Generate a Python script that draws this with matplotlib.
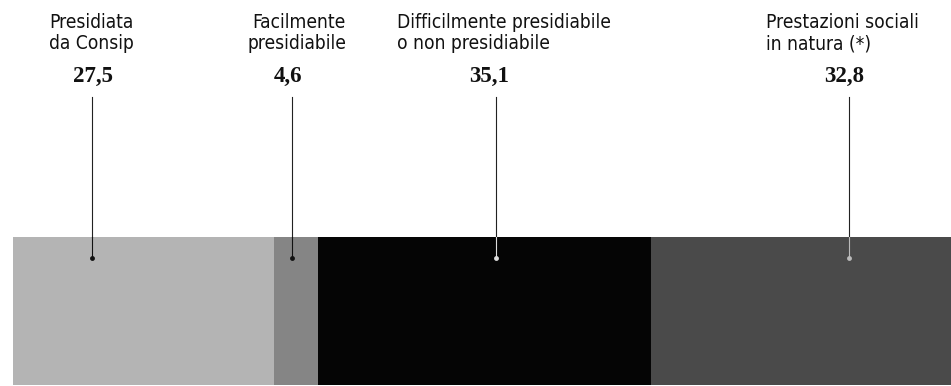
import numpy as np
import matplotlib
matplotlib.use("Agg")
import matplotlib.pyplot as plt

# data
categories = ["Presidiata\nda Consip", "Facilmente\npresidiabile",
              "Difficilmente presidiabile\no non presidiabile",
              "Prestazioni sociali\nin natura (*)"]
values = [27.5, 4.6, 35.1, 32.8]
value_labels = ["27,5", "4,6", "35,1", "32,8"]

# styling / layout (x in percent of bar, y in pixels from top)
colors = ["#b4b4b4", "#858585", "#050505", "#4a4a4a"]
pin_colors = ["#111111", "#111111", "#dddddd", "#bbbbbb"]
pin_x = [8.3, 29.4, 50.8, 88.0]
text_x = [8.3, 35.05, 40.4, 79.3]
text_ha = ["center", "right", "left", "left"]
num_x = [8.4, 29.0, 50.1, 87.5]

px_per_unit = 9.5
left_px = 13
bar_top, bar_bottom = 237, 385

fig = plt.figure(figsize=(9.51, 3.86), dpi=100)
ax = fig.add_axes([0, 0, 1, 1])
ax.set_xlim(-left_px / px_per_unit, (951 - left_px) / px_per_unit)
ax.set_ylim(386, 0)
ax.axis("off")

lefts = np.concatenate([[0], np.cumsum(values)[:-1]])
ax.barh((bar_top + bar_bottom) / 2, values, left=lefts,
        height=bar_bottom - bar_top, color=colors, linewidth=0)

label_font = dict(family="DejaVu Sans", fontstretch="condensed",
                  fontsize=13.8, color="#111111")
for i, cat in enumerate(categories):
    # baseline of the second (last) line
    ax.text(text_x[i], 49, cat, ha=text_ha[i], va="baseline",
            multialignment=text_ha[i], linespacing=1.1, **label_font)
    ax.text(num_x[i], 82, value_labels[i], ha="center", va="baseline",
            family="Liberation Serif", fontweight="bold", fontsize=16.5,
            color="#111111")
    # pin line + dot
    ax.plot([pin_x[i], pin_x[i]], [97, bar_top], color="#222222", lw=0.8)
    ax.plot([pin_x[i], pin_x[i]], [bar_top, 258], color=pin_colors[i], lw=0.8)
    ax.plot(pin_x[i], 258, "o", ms=3.5, color=pin_colors[i], mec="none")

fig.savefig("out.png", dpi=100)
